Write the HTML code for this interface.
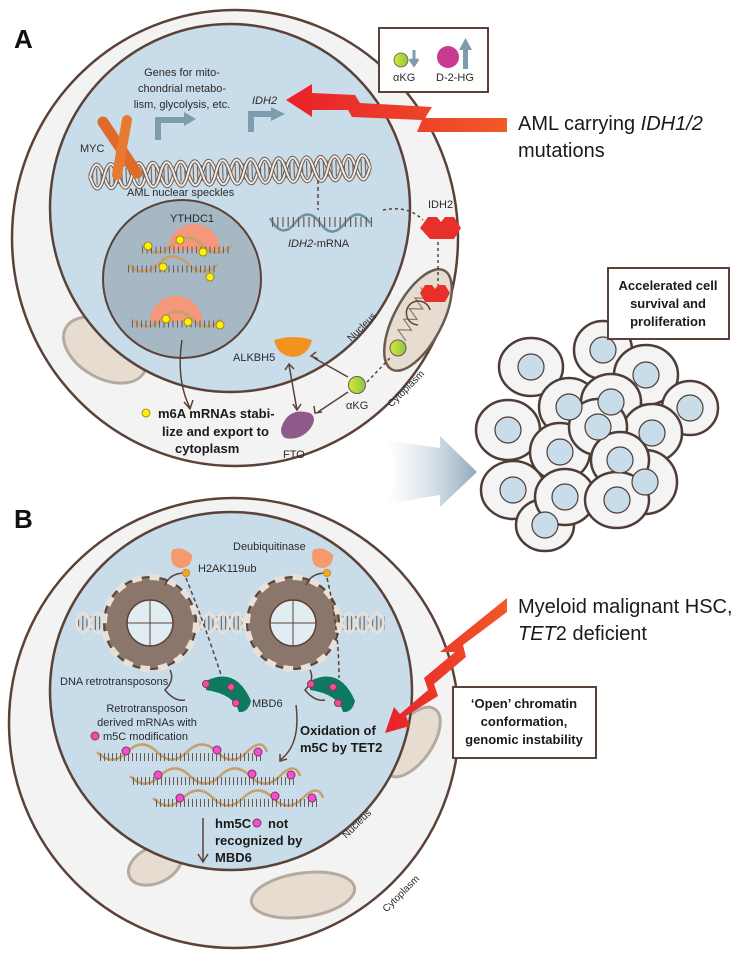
<!DOCTYPE html>
<html><head><meta charset="utf-8"><style>
html,body{margin:0;padding:0;background:#fff;}
svg{display:block;font-family:"Liberation Sans",sans-serif;}
.t{font-size:11px;fill:#2a2a2a;}
.b{font-size:13px;font-weight:bold;fill:#1a1a1a;}
</style></head><body>
<svg width="747" height="960" viewBox="0 0 747 960" xmlns="http://www.w3.org/2000/svg">
<defs>
<linearGradient id="ga" x1="0" x2="1"><stop offset="0" stop-color="#cfdde5" stop-opacity="0"/><stop offset="1" stop-color="#8fa9b8"/></linearGradient>
<linearGradient id="red" x1="1" x2="0"><stop offset="0" stop-color="#f05a28"/><stop offset="1" stop-color="#e8202a"/></linearGradient>
<linearGradient id="grn" x1="0" x2="1"><stop offset="0" stop-color="#d8e63a"/><stop offset="1" stop-color="#8cc63f"/></linearGradient>
</defs>

<!-- ===== Panel A ===== -->
<text x="14" y="48" font-size="26" font-weight="bold" fill="#111">A</text>
<ellipse cx="235" cy="238" rx="223" ry="228" fill="#f3f3f3" stroke="#5b4238" stroke-width="2.5"/>
<ellipse cx="105" cy="350" rx="45" ry="28" transform="rotate(30 105 350)" fill="#e6ddd0" stroke="#b4aaa0" stroke-width="3"/>
<g transform="rotate(28 418 320)">
<ellipse cx="418" cy="320" rx="24" ry="56" fill="#e6ddd0" stroke="#6b5a50" stroke-width="2.5"/>
<path d="M405,290 l12,6 -12,6 12,6 -12,6 12,6 -12,6 12,6 -12,6 12,6" fill="none" stroke="#8a7a70" stroke-width="1.2"/>
</g>
<ellipse cx="230" cy="208" rx="180" ry="184" fill="#c8dde9" stroke="#5b4238" stroke-width="2.5"/>
<circle cx="182" cy="279" r="79" fill="#a5b8c4" stroke="#5b4238" stroke-width="2"/>

<!-- DNA A -->
<g transform="rotate(-2 230 172)">
<line x1="92" y1="172" x2="370" y2="172" stroke="#7a6a62" stroke-width="16" stroke-dasharray="1.2 3"/>
<path d="M90,172 q7,-24 14,0 t14,0 t14,0 t14,0 t14,0 t14,0 t14,0 t14,0 t14,0 t14,0 t14,0 t14,0 t14,0 t14,0 t14,0 t14,0 t14,0 t14,0 t14,0 t14,0" fill="none" stroke="#6b5a50" stroke-width="4"/>
<path d="M90,172 q7,-24 14,0 t14,0 t14,0 t14,0 t14,0 t14,0 t14,0 t14,0 t14,0 t14,0 t14,0 t14,0 t14,0 t14,0 t14,0 t14,0 t14,0 t14,0 t14,0 t14,0" fill="none" stroke="#f1ebe4" stroke-width="2"/>
<path d="M90,172 q7,24 14,0 t14,0 t14,0 t14,0 t14,0 t14,0 t14,0 t14,0 t14,0 t14,0 t14,0 t14,0 t14,0 t14,0 t14,0 t14,0 t14,0 t14,0 t14,0 t14,0" fill="none" stroke="#6b5a50" stroke-width="4"/>
<path d="M90,172 q7,24 14,0 t14,0 t14,0 t14,0 t14,0 t14,0 t14,0 t14,0 t14,0 t14,0 t14,0 t14,0 t14,0 t14,0 t14,0 t14,0 t14,0 t14,0 t14,0 t14,0" fill="none" stroke="#f1ebe4" stroke-width="2"/>
</g>
<line x1="103" y1="122" x2="137" y2="173" stroke="#e06a2a" stroke-width="11" stroke-linecap="round"/>
<line x1="127" y1="120" x2="117" y2="175" stroke="#e87a30" stroke-width="10" stroke-linecap="round"/>
<text class="t" x="80" y="152">MYC</text>
<path d="M158,140 v-20 h28" fill="none" stroke="#7f9cae" stroke-width="6"/>
<path d="M184,112 l12,7 -12,7z" fill="#7f9cae"/>
<path d="M251,132 v-18 h22" fill="none" stroke="#7f9cae" stroke-width="6"/>
<path d="M271,107 l14,7 -14,7z" fill="#7f9cae"/>
<text class="t" font-size="12" text-anchor="middle"><tspan x="182" y="76">Genes for mito-</tspan><tspan x="182" y="92">chondrial metabo-</tspan><tspan x="182" y="108">lism, glycolysis, etc.</tspan></text>
<text class="t" x="252" y="104" font-style="italic">IDH2</text>
<text class="t" x="127" y="196" font-size="11.5">AML nuclear speckles</text>
<text class="t" x="170" y="222" font-size="10.5">YTHDC1</text>
<path d="M168,250 a18,18 0 0 1 52,0z" fill="#f4977a"/>
<path d="M150,322 a18,18 0 0 1 52,0z" fill="#f4977a"/>
<g fill="none" stroke="#c8a070" stroke-width="2.5">
<path d="M142,245 q15,15 30,0 t30,0 t30,0"/>
<path d="M128,264 q15,15 30,0 t30,0 t30,0"/>
<path d="M132,319 q15,15 30,0 t30,0 t30,0"/>
</g>
<g stroke="#6b5a50" stroke-width="7" stroke-dasharray="1 3.5">
<line x1="142" y1="250" x2="232" y2="250"/><line x1="128" y1="269" x2="218" y2="269"/><line x1="132" y1="324" x2="222" y2="324"/>
</g>
<g fill="#fff200" stroke="#8a7a20" stroke-width="0.8">
<circle cx="148" cy="246" r="4"/><circle cx="180" cy="240" r="4"/><circle cx="203" cy="252" r="4"/>
<circle cx="163" cy="267" r="4"/><circle cx="210" cy="277" r="4"/>
<circle cx="166" cy="319" r="4"/><circle cx="188" cy="322" r="4"/><circle cx="220" cy="325" r="4"/>
</g>
<line x1="318" y1="180" x2="318" y2="210" stroke="#5b4238" stroke-width="1.5" stroke-dasharray="4 3"/>
<path d="M270,218 q12,22 25,5 t25,0 t25,0 t25,0" fill="none" stroke="#6f90a4" stroke-width="2.5"/>
<line x1="272" y1="222" x2="372" y2="222" stroke="#6b5a50" stroke-width="10" stroke-dasharray="1.2 4"/>
<text class="t" x="288" y="247"><tspan font-style="italic">IDH2</tspan>-mRNA</text>
<path d="M383,210 q25,-5 40,10" fill="none" stroke="#5b4238" stroke-width="1.5" stroke-dasharray="3 3"/>
<text class="t" x="428" y="208">IDH2</text>
<path d="M420,228 l8,-11 h9 l4,5 4,-5 h9 l7,11 -7,11 h-24z" fill="#e8302a"/>
<line x1="438" y1="242" x2="438" y2="285" stroke="#5b4238" stroke-width="1.5" stroke-dasharray="3 3"/>
<path d="M420,293 l5,-8 h7 l3,4 3,-4 h7 l5,8 -5,9 h-20z" fill="#e8302a"/>
<path d="M418,325 a12,12 0 1 1 12,-15" fill="none" stroke="#5b4238" stroke-width="1.5"/>
<circle cx="398" cy="348" r="8" fill="url(#grn)" stroke="#6b5a50" stroke-width="1"/>
<circle cx="357" cy="385" r="8.5" fill="url(#grn)" stroke="#6b5a50" stroke-width="1"/>
<line x1="367" y1="382" x2="390" y2="358" stroke="#5b4238" stroke-width="1.5" stroke-dasharray="3 3"/>
<text class="t" x="346" y="409">αKG</text>
<path d="M274,340 q20,-6 38,0 q-4,16 -19,17 q-15,-1 -19,-17z" fill="#f39220"/>
<text class="t" x="233" y="361">ALKBH5</text>
<path d="M285,420 q8,-12 25,-7 q8,5 0,16 q-10,12 -25,9 q-8,-6 0,-18z" fill="#8e5a8a"/>
<text class="t" x="283" y="458">FTO</text>
<g stroke="#5b4238" stroke-width="1.5" fill="none">
<line x1="348" y1="377" x2="314" y2="358"/><path d="M316,352 l-5,4 7,3"/>
<line x1="348" y1="392" x2="318" y2="412"/><path d="M314,406 l1,7 7,-1"/>
<line x1="289" y1="365" x2="297" y2="410"/><path d="M285,370 l4,-6 5,5 M293,404 l4,6 4,-6"/>
<path d="M182,340 q-6,40 8,68"/><path d="M184,402 l6,7 3,-9"/>
</g>
<text x="343" y="338" font-size="10" fill="#2a2a2a" transform="rotate(-45 352 330)">Nucleus</text>
<text x="380" y="400" font-size="10" fill="#2a2a2a" transform="rotate(-45 395 390)">Cytoplasm</text>
<circle cx="146" cy="413" r="4" fill="#fff200" stroke="#8a7a20" stroke-width="0.8"/>
<text class="b"><tspan x="158" y="418">m6A mRNAs stabi-</tspan><tspan x="162" y="436">lize and export to</tspan><tspan x="175" y="453">cytoplasm</tspan></text>

<rect x="379" y="28" width="109" height="64" fill="#fff" stroke="#5b4238" stroke-width="2"/>
<circle cx="401" cy="60" r="7" fill="url(#grn)" stroke="#6b5a50" stroke-width="0.8"/>
<path d="M414,50 v12 M410,59 l4,6 4,-6" stroke="#7f9cae" stroke-width="3" fill="#7f9cae"/>
<text class="t" x="393" y="81" font-size="10">αKG</text>
<circle cx="448" cy="57" r="11" fill="#c63a8f"/>
<rect x="463" y="49" width="5" height="20" fill="#7f9cae"/><path d="M459,50 l6.5,-12 6.5,12z" fill="#7f9cae"/>
<text class="t" x="436" y="81" font-size="10">D-2-HG</text>
<!-- red arrow A -->
<path d="M286,100 L312,84 L312,93 L355,95 L360,103 L432,107 L425,118 L507,118 L507,132 L417,132 L422,120 L352,117 L348,110 L312,110 L312,117 Z" fill="url(#red)"/>
<text x="518" y="130" font-size="20" fill="#1a1a1a">AML carrying <tspan font-style="italic">IDH1/2</tspan></text>
<text x="518" y="157" font-size="20" fill="#1a1a1a">mutations</text>

<path d="M385,440 Q420,445 440,448 L440,436 L477,472 L440,507 L440,495 Q420,498 385,505 Q405,472 385,440Z" fill="url(#ga)"/>

<g fill="#f4f4f4" stroke="#4e3d36" stroke-width="2.5">
<ellipse cx="531" cy="367" rx="32" ry="29"/>
<ellipse cx="603" cy="350" rx="29" ry="29"/>
<ellipse cx="646" cy="375" rx="32" ry="30"/>
<ellipse cx="690" cy="408" rx="28" ry="27"/>
<ellipse cx="508" cy="430" rx="32" ry="30"/>
<ellipse cx="569" cy="407" rx="30" ry="29"/>
<ellipse cx="611" cy="402" rx="30" ry="28"/>
<ellipse cx="652" cy="433" rx="30" ry="29"/>
<ellipse cx="513" cy="490" rx="32" ry="29"/>
<ellipse cx="545" cy="525" rx="29" ry="26"/>
<ellipse cx="560" cy="452" rx="30" ry="29"/>
<ellipse cx="598" cy="427" rx="29" ry="28"/>
<ellipse cx="645" cy="482" rx="32" ry="32"/>
<ellipse cx="620" cy="460" rx="29" ry="28"/>
<ellipse cx="565" cy="497" rx="30" ry="28"/>
<ellipse cx="617" cy="500" rx="32" ry="28"/>
</g>
<g fill="#c8dde9" stroke="#4e3d36" stroke-width="1.2">
<circle cx="531" cy="367" r="13"/><circle cx="603" cy="350" r="13"/><circle cx="646" cy="375" r="13"/><circle cx="690" cy="408" r="13"/>
<circle cx="508" cy="430" r="13"/><circle cx="569" cy="407" r="13"/><circle cx="611" cy="402" r="13"/><circle cx="652" cy="433" r="13"/>
<circle cx="513" cy="490" r="13"/><circle cx="545" cy="525" r="13"/><circle cx="560" cy="452" r="13"/><circle cx="598" cy="427" r="13"/>
<circle cx="645" cy="482" r="13"/><circle cx="620" cy="460" r="13"/><circle cx="565" cy="497" r="13"/><circle cx="617" cy="500" r="13"/>
</g>
<rect x="608" y="268" width="121" height="71" fill="#fff" stroke="#5b4238" stroke-width="2"/>
<text class="b" font-size="12.5" text-anchor="middle"><tspan x="668" y="290">Accelerated cell</tspan><tspan x="668" y="308">survival and</tspan><tspan x="668" y="326">proliferation</tspan></text>

<!-- ===== Panel B ===== -->
<text x="14" y="528" font-size="26" font-weight="bold" fill="#111">B</text>
<circle cx="234" cy="723" r="225" fill="#f3f3f3" stroke="#5b4238" stroke-width="2.5"/>
<ellipse cx="155" cy="865" rx="28" ry="18" transform="rotate(-25 155 865)" fill="#e6ddd0" stroke="#b4aaa0" stroke-width="3"/>
<ellipse cx="303" cy="895" rx="52" ry="22" transform="rotate(-8 303 895)" fill="#e6ddd0" stroke="#b4aaa0" stroke-width="3"/>
<ellipse cx="412" cy="742" rx="20" ry="40" transform="rotate(35 412 742)" fill="#e6ddd0" stroke="#b4aaa0" stroke-width="3"/>
<ellipse cx="231" cy="691" rx="181" ry="179" fill="#c8dde9" stroke="#5b4238" stroke-width="2.5"/>
<line x1="78" y1="623" x2="385" y2="623" stroke="#7a6a62" stroke-width="14" stroke-dasharray="1.2 3"/>
<path d="M76,623 q7,-20 14,0 t14,0 t14,0 t14,0 t14,0 t14,0 t14,0 t14,0 t14,0 t14,0 t14,0 t14,0 t14,0 t14,0 t14,0 t14,0 t14,0 t14,0 t14,0 t14,0 t14,0 t14,0" fill="none" stroke="#e9e1d8" stroke-width="2.5"/>
<path d="M76,623 q7,20 14,0 t14,0 t14,0 t14,0 t14,0 t14,0 t14,0 t14,0 t14,0 t14,0 t14,0 t14,0 t14,0 t14,0 t14,0 t14,0 t14,0 t14,0 t14,0 t14,0 t14,0 t14,0" fill="none" stroke="#e9e1d8" stroke-width="2.5"/>
<g>
<circle cx="150" cy="623" r="46" fill="#8a766a" stroke="#5b4238" stroke-width="2"/>
<circle cx="150" cy="623" r="46" fill="none" stroke="#e9e1d8" stroke-width="6" stroke-dasharray="10 8"/>
<circle cx="150" cy="623" r="23" fill="#e2edf3" stroke="#5b4238" stroke-width="1.5"/>
<path d="M127,623 h46 M150,600 v46" stroke="#5b4238" stroke-width="1"/>
<circle cx="293" cy="623" r="46" fill="#8a766a" stroke="#5b4238" stroke-width="2"/>
<circle cx="293" cy="623" r="46" fill="none" stroke="#e9e1d8" stroke-width="6" stroke-dasharray="10 8"/>
<circle cx="293" cy="623" r="23" fill="#e2edf3" stroke="#5b4238" stroke-width="1.5"/>
<path d="M270,623 h46 M293,600 v46" stroke="#5b4238" stroke-width="1"/>
</g>
<g stroke="#5b4238" stroke-width="1.5" fill="none">
<path d="M165,585 q5,-12 20,-12"/><path d="M306,585 q5,-12 20,-12"/>
<path d="M186,578 q20,50 36,100" stroke-dasharray="4 3"/><path d="M327,578 q12,50 12,100" stroke-dasharray="4 3"/>
<path d="M170,670 q5,10 -5,20 q10,12 20,10"/><path d="M310,670 q5,10 -5,20 q10,12 20,10"/>
</g>
<path d="M172,550 q10,-5 20,5 q0,12 -10,13 q-14,0 -10,-18z" fill="#f49a6c"/>
<path d="M313,550 q10,-5 20,5 q0,12 -10,13 q-14,0 -10,-18z" fill="#f49a6c"/>
<circle cx="186" cy="573" r="3.5" fill="#f7a81b" stroke="#c07010" stroke-width="1.5" stroke-dasharray="1 1"/>
<circle cx="327" cy="573" r="3.5" fill="#f7a81b" stroke="#c07010" stroke-width="1.5" stroke-dasharray="1 1"/>
<text class="t" x="233" y="550" font-size="10.5">Deubiquitinase</text>
<text class="t" x="198" y="572" font-size="10.5">H2AK119ub</text>
<path d="M206,681 q30,-15 45,20 q-3,12 -12,11 q-5,-18 -33,-22z" fill="#0d7a5f"/>
<path d="M310,681 q30,-15 45,20 q-3,12 -12,11 q-5,-18 -33,-22z" fill="#0d7a5f"/>
<g fill="#ee4f9a" stroke="#8a3060" stroke-width="1">
<circle cx="206" cy="684" r="3.5"/><circle cx="231" cy="687" r="3.5"/><circle cx="236" cy="703" r="3.5"/>
<circle cx="311" cy="684" r="3.5"/><circle cx="333" cy="687" r="3.5"/><circle cx="338" cy="703" r="3.5"/>
</g>
<text class="t" x="60" y="685" font-size="10.5">DNA retrotransposons</text>
<text class="t" x="252" y="707" font-size="10.5">MBD6</text>
<text class="t" font-size="10.5" text-anchor="middle"><tspan x="147" y="712">Retrotransposon</tspan><tspan x="147" y="726">derived mRNAs with</tspan></text>
<circle cx="95" cy="736" r="4" fill="#ee4f9a" stroke="#8a3060"/>
<text class="t" x="103" y="740" font-size="10.5">m5C modification</text>
<g fill="none" stroke="#c8a070" stroke-width="2.5">
<path d="M97,752 q15,15 30,0 t30,0 t30,0 t30,0 t30,0 t20,0"/>
<path d="M130,776 q15,15 30,0 t30,0 t30,0 t30,0 t30,0 t20,0"/>
<path d="M153,798 q15,15 30,0 t30,0 t30,0 t30,0 t30,0 t20,0"/>
</g>
<g stroke="#6b5a50" stroke-width="8" stroke-dasharray="1 3">
<line x1="100" y1="757" x2="262" y2="757"/><line x1="133" y1="781" x2="296" y2="781"/><line x1="156" y1="803" x2="320" y2="803"/>
</g>
<g fill="#f04fd0" stroke="#8a3060" stroke-width="1">
<circle cx="126" cy="751" r="4"/><circle cx="217" cy="750" r="4"/><circle cx="258" cy="752" r="4"/>
<circle cx="158" cy="775" r="4"/><circle cx="252" cy="774" r="4"/><circle cx="291" cy="775" r="4"/>
<circle cx="180" cy="798" r="4"/><circle cx="275" cy="796" r="4"/><circle cx="312" cy="798" r="4"/>
</g>
<path d="M296,705 q5,40 -16,55" fill="none" stroke="#5b4238" stroke-width="1.5"/><path d="M280,754 l0,7 7,-2" fill="none" stroke="#5b4238" stroke-width="1.5"/>
<text class="b"><tspan x="300" y="735">Oxidation of</tspan><tspan x="300" y="752">m5C by TET2</tspan></text>
<path d="M203,818 v43 M198,854 l5,8 5,-8" fill="none" stroke="#5b4238" stroke-width="1.5"/>
<text class="b"><tspan x="215" y="828">hm5C</tspan><tspan x="268" y="828">not</tspan><tspan x="215" y="845">recognized by</tspan><tspan x="215" y="862">MBD6</tspan></text>
<circle cx="257" cy="823" r="4" fill="#f04fd0" stroke="#8a3060"/>
<text x="336" y="830" font-size="10" fill="#2a2a2a" transform="rotate(-45 352 822)">Nucleus</text>
<text x="373" y="900" font-size="10" fill="#2a2a2a" transform="rotate(-45 395 890)">Cytoplasm</text>

<path d="M507,598 L507,612 L463,645 L466,657 L434,684 L438,696 L406,716 L410,726 L385,733 L394,707 L400,714 L428,690 L424,678 L455,652 L440,652 Z" fill="url(#red)"/>
<text x="518" y="613" font-size="20" fill="#1a1a1a">Myeloid malignant HSC,</text>
<text x="518" y="640" font-size="20" fill="#1a1a1a"><tspan font-style="italic">TET</tspan>2 deficient</text>
<rect x="453" y="687" width="143" height="71" fill="#fff" stroke="#5b4238" stroke-width="2"/>
<text class="b" font-size="12.5" text-anchor="middle"><tspan x="524" y="708">‘Open’ chromatin</tspan><tspan x="524" y="726">conformation,</tspan><tspan x="524" y="744">genomic instability</tspan></text>
</svg>
</body></html>
